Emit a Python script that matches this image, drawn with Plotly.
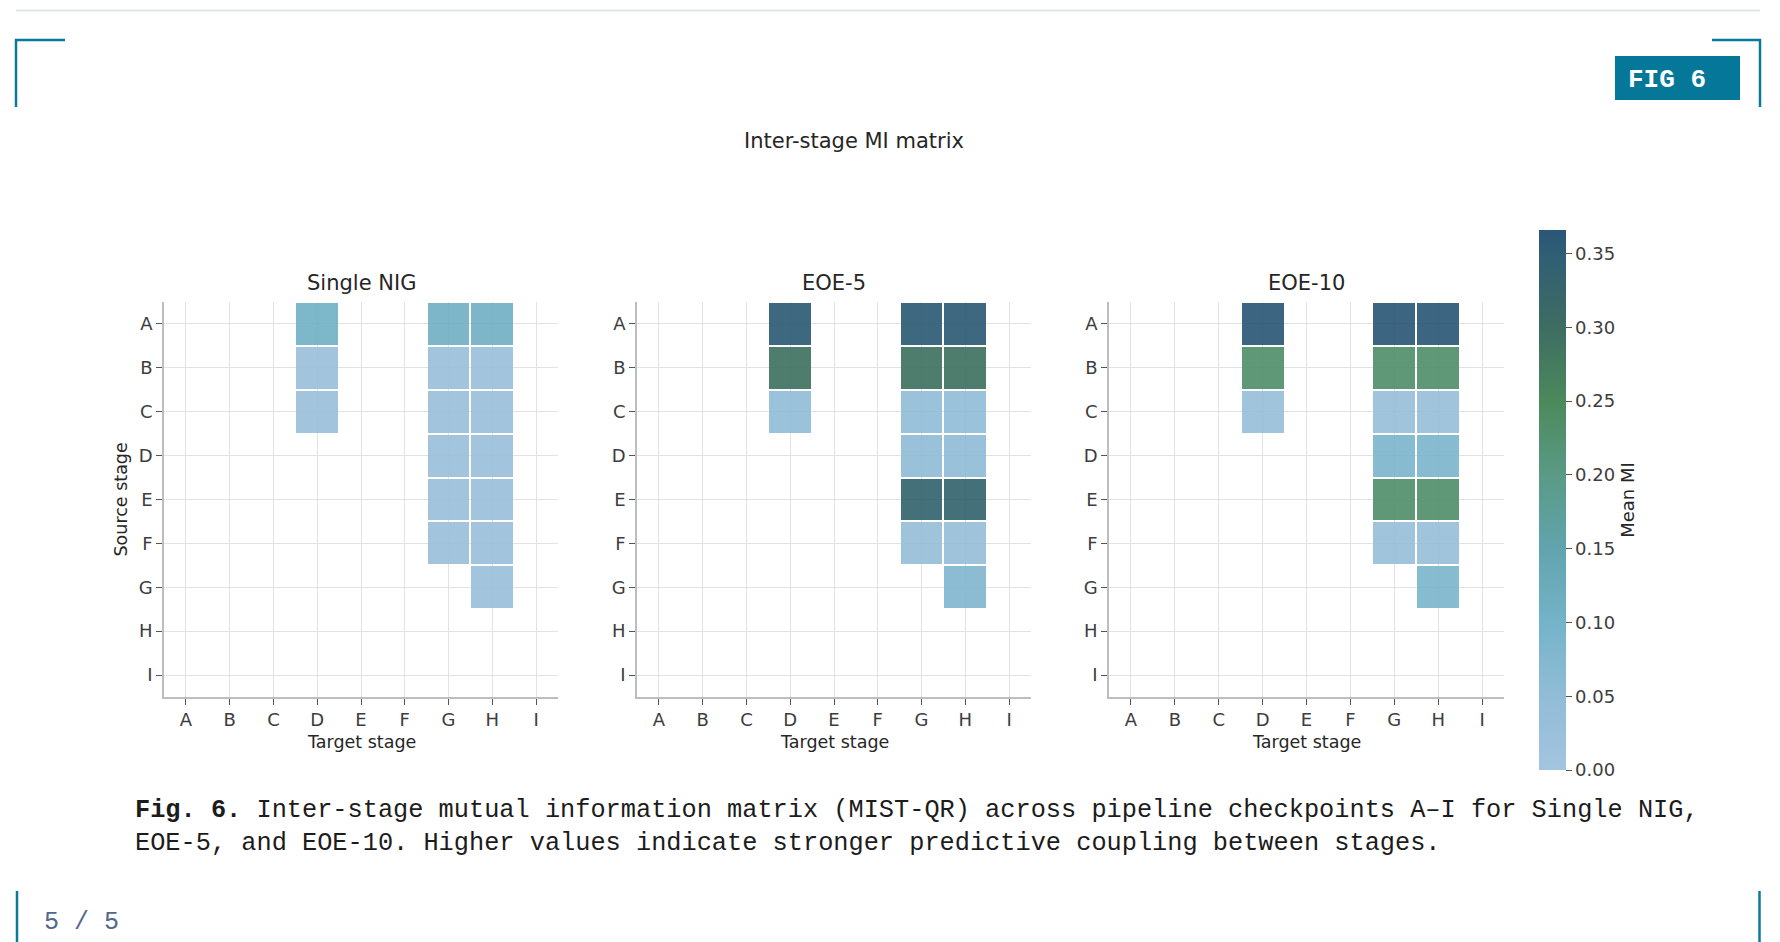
import plotly.graph_objects as go

W, H = 1780, 942

# ---------------- data ----------------
stages = ["A", "B", "C", "D", "E", "F", "G", "H", "I"]
panel_titles = ["Single NIG", "EOE-5", "EOE-10"]
N = None

# rows = source stage (A..I), columns = target stage (A..I)
mi_single_nig = [
    [N, N, N, 0.105, N, N, 0.108, 0.108, N],
    [N, N, N, 0.022, N, N, 0.022, 0.022, N],
    [N, N, N, 0.022, N, N, 0.022, 0.022, N],
    [N, N, N, N,     N, N, 0.022, 0.022, N],
    [N, N, N, N,     N, N, 0.022, 0.022, N],
    [N, N, N, N,     N, N, 0.022, 0.022, N],
    [N, N, N, N,     N, N, N,     0.022, N],
    [N, N, N, N,     N, N, N,     N,     N],
    [N, N, N, N,     N, N, N,     N,     N],
]
mi_eoe5 = [
    [N, N, N, 0.355, N, N, 0.355, 0.355, N],
    [N, N, N, 0.290, N, N, 0.290, 0.290, N],
    [N, N, N, 0.045, N, N, 0.045, 0.045, N],
    [N, N, N, N,     N, N, 0.050, 0.050, N],
    [N, N, N, N,     N, N, 0.330, 0.330, N],
    [N, N, N, N,     N, N, 0.035, 0.035, N],
    [N, N, N, N,     N, N, N,     0.075, N],
    [N, N, N, N,     N, N, N,     N,     N],
    [N, N, N, N,     N, N, N,     N,     N],
]
mi_eoe10 = [
    [N, N, N, 0.362, N, N, 0.362, 0.362, N],
    [N, N, N, 0.232, N, N, 0.232, 0.232, N],
    [N, N, N, 0.030, N, N, 0.030, 0.030, N],
    [N, N, N, N,     N, N, 0.085, 0.085, N],
    [N, N, N, N,     N, N, 0.232, 0.232, N],
    [N, N, N, N,     N, N, 0.030, 0.030, N],
    [N, N, N, N,     N, N, N,     0.085, N],
    [N, N, N, N,     N, N, N,     N,     N],
    [N, N, N, N,     N, N, N,     N,     N],
]
panels = [mi_single_nig, mi_eoe5, mi_eoe10]
cbar_ticks = [0.00, 0.05, 0.10, 0.15, 0.20, 0.25, 0.30, 0.35]
mi_min, mi_max = 0.0, 0.366

colorscale = [
    [0.000, "#a3c4df"], [0.136, "#91bcd7"], [0.272, "#74b3c9"],
    [0.409, "#61a4ad"], [0.545, "#5a9a86"], [0.681, "#4c8a5c"],
    [0.818, "#3e6d62"], [0.954, "#305e75"], [1.000, "#2b5678"],
]

# ---------------- helpers (pixel -> paper) ----------------
def px(x):
    return x / W

def py(y):
    return 1 - y / H

FONT = "DejaVu Sans"
MONO = "Liberation Mono"
TXT = "#262626"
TICK = "#3d3d3d"

x_domains = [(164, 558), (637, 1031), (1109, 1504)]
y_top, y_bot = 302, 697

fig = go.Figure()
for i, (z, title) in enumerate(zip(panels, panel_titles)):
    sfx = "" if i == 0 else str(i + 1)
    fig.add_trace(go.Heatmap(
        z=z, x=stages, y=stages,
        coloraxis="coloraxis",
        xgap=2, ygap=2,
        opacity=0.92,
        xaxis="x" + sfx, yaxis="y" + sfx,
        hoverongaps=False,
    ))

layout = dict(
    width=W, height=H,
    margin=dict(l=0, r=0, t=0, b=0),
    paper_bgcolor="white", plot_bgcolor="white",
    font=dict(family=FONT, color=TICK),
    showlegend=False,
    coloraxis=dict(
        colorscale=colorscale, cmin=mi_min, cmax=mi_max,
        colorbar=dict(
            x=px(1539), xanchor="left", xpad=0,
            y=py(500), yanchor="middle", ypad=0,
            len=540, lenmode="pixels",
            thickness=27, thicknessmode="pixels",
            outlinewidth=0,
            ticks="outside", ticklen=6, tickwidth=1.2, tickcolor="#555555",
            tickvals=cbar_ticks, tickformat=".2f", tickprefix="\u00a0",
            tickfont=dict(family=FONT, size=18, color=TICK),
            title=dict(text="Mean MI", side="right",
                       font=dict(family=FONT, size=18, color=TXT)),
        ),
    ),
)

ax_common = dict(
    type="category",
    showgrid=True, gridcolor="#e2e2e2", gridwidth=1,
    zeroline=False,
    showline=True, linecolor="#bdbdbd", linewidth=1.5,
    ticks="outside", ticklen=6, tickwidth=1.2, tickcolor="#555555",
    tickfont=dict(family=FONT, size=18, color=TICK),
    fixedrange=True,
)
for i, (x0, x1) in enumerate(x_domains):
    sfx = "" if i == 0 else str(i + 1)
    layout["xaxis" + sfx] = dict(
        ax_common, domain=[px(x0), px(x1)],
        range=[-0.5, 8.5], anchor="y" + sfx,
        categoryorder="array", categoryarray=stages,
    )
    layout["yaxis" + sfx] = dict(
        ax_common, domain=[py(y_bot), py(y_top)],
        range=[8.5, -0.5], anchor="x" + sfx,
        categoryorder="array", categoryarray=stages,
    )

annotations = []
# panel titles and axis titles
for i, ((x0, x1), title) in enumerate(zip(x_domains, panel_titles)):
    cx = (x0 + x1) / 2
    annotations.append(dict(text=title, x=px(cx), y=py(283), xref="paper", yref="paper",
                            showarrow=False, xanchor="center", yanchor="middle",
                            font=dict(family=FONT, size=21, color=TXT)))
    annotations.append(dict(text="Target stage", x=px(cx), y=py(742), xref="paper", yref="paper",
                            showarrow=False, xanchor="center", yanchor="middle",
                            font=dict(family=FONT, size=17.5, color=TXT)))
annotations.append(dict(text="Source stage", x=px(120), y=py((y_top + y_bot) / 2),
                        xref="paper", yref="paper", showarrow=False, textangle=-90,
                        xanchor="center", yanchor="middle",
                        font=dict(family=FONT, size=17.5, color=TXT)))
# main title
annotations.append(dict(text="Inter-stage MI matrix", x=px(854), y=py(141), xref="paper", yref="paper",
                        showarrow=False, xanchor="center", yanchor="middle",
                        font=dict(family=FONT, size=21, color=TXT)))
# badge text
annotations.append(dict(text="<b>FIG 6</b>", x=px(1626), y=py(80), xref="paper", yref="paper",
                        showarrow=False, xanchor="left", yanchor="middle",
                        font=dict(family=MONO, size=26, color="white")))
# caption
annotations.append(dict(
    text=("<b>Fig. 6.</b> Inter-stage mutual information matrix (MIST-QR) across pipeline "
          "checkpoints A–I for Single NIG,<br>EOE-5, and EOE-10. Higher values indicate "
          "stronger predictive coupling between stages."),
    x=px(133), y=py(827), xref="paper", yref="paper", showarrow=False,
    xanchor="left", yanchor="middle", align="left",
    font=dict(family=MONO, size=25.3, color="#1c1c1c")))
# page number
annotations.append(dict(text="5 / 5", x=px(42), y=py(922), xref="paper", yref="paper",
                        showarrow=False, xanchor="left", yanchor="middle",
                        font=dict(family=MONO, size=25, color="#52698c")))
layout["annotations"] = annotations

ACC = "#0b7a99"
shapes = [
    # top rule
    dict(type="line", x0=px(16), x1=px(1760), y0=py(10.5), y1=py(10.5),
         xref="paper", yref="paper", line=dict(color="#e1e3e6", width=2)),
    # top-left bracket
    dict(type="line", x0=px(15), x1=px(65), y0=py(40), y1=py(40),
         xref="paper", yref="paper", line=dict(color=ACC, width=2.5)),
    dict(type="line", x0=px(16), x1=px(16), y0=py(39), y1=py(107),
         xref="paper", yref="paper", line=dict(color=ACC, width=2.5)),
    # top-right bracket
    dict(type="line", x0=px(1712), x1=px(1761), y0=py(40), y1=py(40),
         xref="paper", yref="paper", line=dict(color=ACC, width=2.5)),
    dict(type="line", x0=px(1760), x1=px(1760), y0=py(39), y1=py(107),
         xref="paper", yref="paper", line=dict(color=ACC, width=2.5)),
    # badge
    dict(type="rect", x0=px(1615), x1=px(1740), y0=py(100), y1=py(56),
         xref="paper", yref="paper", fillcolor="#05789a", line=dict(width=0)),
    # bottom side rules
    dict(type="line", x0=px(17), x1=px(17), y0=py(891), y1=py(942),
         xref="paper", yref="paper", line=dict(color=ACC, width=2.5)),
    dict(type="line", x0=px(1759.5), x1=px(1759.5), y0=py(891), y1=py(942),
         xref="paper", yref="paper", line=dict(color=ACC, width=2.5)),
]
layout["shapes"] = shapes

fig.update_layout(**layout)
fig.write_html("out.html", config={"displayModeBar": False})
